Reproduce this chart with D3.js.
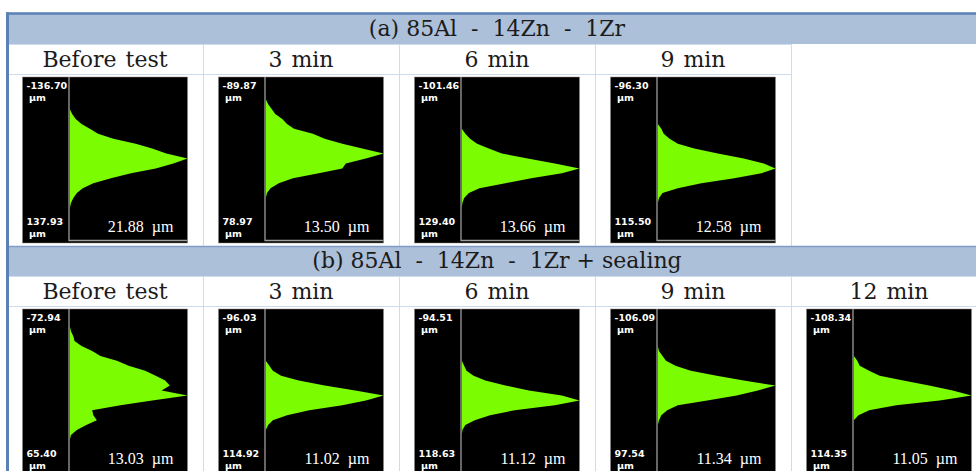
<!DOCTYPE html>
<html>
<head>
<meta charset="utf-8">
<script src="https://cdn.jsdelivr.net/npm/d3@7"></script>
<style>
  body { margin: 0; background: #fff; }
  svg { display: block; }
</style>
</head>
<body>
<div id="chart"></div>
<script>
const width = 976;
const height = 471;

// table text
const columns = ["Before test", "3 min", "6 min", "9 min", "12 min"];
const groupTitles = ["(a) 85Al  -  14Zn  -  1Zr", "(b) 85Al  -  14Zn  -  1Zr + sealing"];

// depth range (µm) shown at top / bottom of each histogram
const depthTopA = [-136.70, -89.87, -101.46, -96.30];
const depthBottomA = [137.93, 78.97, 129.40, 115.50];
const roughnessA = [21.88, 13.50, 13.66, 12.58];

const depthTopB = [-72.94, -96.03, -94.51, -106.09, -108.34];
const depthBottomB = [65.40, 114.92, 118.63, 97.54, 114.35];
const roughnessB = [13.03, 11.02, 11.12, 11.34, 11.05];

// height distribution: 33 equal depth bins from top to bottom, % of peak
const histA = [
  [0,0,0,0,0,0,0,2,5,10,17,24,37,56,70,82,100,88,73,52,35,20,11,6,3,1,0,0,0,0,0,0,0],
  [0,0,0,0,0,2,5,8,14,18,24,40,50,65,82,100,85,68,65,45,23,11,4,1,0,0,0,0,0,0,0,0,0],
  [0,0,0,0,0,0,0,0,0,0,0,3,7,13,23,34,56,79,100,85,59,37,15,6,2,0.5,0,0,0,0,0,0,0],
  [0,0,0,0,0,0,0,0,0,0,3,5,10,17,31,51,73,90,100,88,65,37,17,4,1,0,0,0,0,0,0,0,0]
];
const histB = [
  [0,0,0,0,1,3,4,10,19,26,40,50,64,73,81,85,78,100,70,43,19,20,23,14,6,1,0,0,0,0,0,0,0],
  [0,0,0,0,0,0,0,0,0,0,0,3,6,13,28,50,76,100,85,65,37,18,6,2,0,0,0,0,0,0,0,0,0],
  [0,0,0,0,0,0,0,0,0,0,0,2,4,10,20,37,57,85,100,79,45,24,11,3,0.5,0,0,0,0,0,0,0,0],
  [0,0,0,0,0,0,0,0,1,4,7,15,28,50,73,100,85,67,42,17,8,3,1,0,0,0,0,0,0,0,0,0,0],
  [0,0,0,0,0,0,0,0,0,0,3,5,13,22,42,64,84,100,73,36,13,4,0,0,0,0,0,0,0,0,0,0,0]
];

const tableLeft = 7;
const colWidth = 196;
const headerH = 30;
const colHeadH = 30;
const panelRowH = 172;
const panelW = 165;
const panelH = 166;
const axisOffset = 46.5;

const serif = "'DejaVu Serif', 'Liberation Serif', serif";
const valueSerif = "'Liberation Serif', 'DejaVu Serif', serif";
const sans = "'DejaVu Sans', 'Open Sans', sans-serif";

const svg = d3.select("#chart")
  .append("svg")
  .attr("width", width)
  .attr("height", height);

svg.append("rect")
  .attr("width", width)
  .attr("height", height)
  .attr("fill", "#fff");

const x = d3.scaleBand()
  .domain(columns)
  .range([tableLeft, tableLeft + colWidth * columns.length]);

const groups = [
  { title: groupTitles[0], top: depthTopA, bottom: depthBottomA, rough: roughnessA, hist: histA },
  { title: groupTitles[1], top: depthTopB, bottom: depthBottomB, rough: roughnessB, hist: histB }
];

const fmt = (v) => v.toFixed(2);
const gridColor = "#cddbee";

groups.forEach((grp, gi) => {
  const y0 = 14 + gi * (headerH + colHeadH + panelRowH);
  const n = grp.hist.length;
  const used = columns.slice(0, n);
  const g = svg.append("g").attr("transform", "translate(0," + y0 + ")");

  // header band
  g.append("rect")
    .attr("x", tableLeft)
    .attr("y", 0)
    .attr("width", width - tableLeft)
    .attr("height", headerH)
    .attr("fill", "#adc0d9");

  if (gi > 0) {
    g.append("line")
      .attr("x1", tableLeft).attr("x2", width)
      .attr("y1", 0.5).attr("y2", 0.5)
      .attr("stroke", "#7f9dc7")
      .attr("stroke-width", 1.5);
  }

  g.append("text")
    .attr("x", (x.range()[0] + x.range()[1]) / 2)
    .attr("y", 22)
    .attr("text-anchor", "middle")
    .style("font-family", serif)
    .style("font-size", "22px")
    .style("white-space", "pre")
    .attr("fill", "#1b1b1b")
    .text(grp.title);

  // grid lines
  const lastX = x(used[n - 1]) + colWidth;
  const rowLines = [headerH, headerH + colHeadH];
  rowLines.forEach((ly) => {
    g.append("line")
      .attr("x1", tableLeft).attr("x2", gi === 0 ? lastX : width)
      .attr("y1", ly + 0.5).attr("y2", ly + 0.5)
      .attr("stroke", gridColor);
  });
  used.forEach((c, i) => {
    if (i === 0) return;
    g.append("line")
      .attr("x1", x(c) + 0.5).attr("x2", x(c) + 0.5)
      .attr("y1", headerH).attr("y2", headerH + colHeadH + panelRowH)
      .attr("stroke", gridColor);
  });
  g.append("line")
    .attr("x1", lastX + 0.5).attr("x2", lastX + 0.5)
    .attr("y1", headerH).attr("y2", headerH + colHeadH + panelRowH)
    .attr("stroke", gridColor);

  // column headers
  g.selectAll("text.col")
    .data(used)
    .join("text")
    .attr("class", "col")
    .attr("x", (d) => x(d) + colWidth / 2)
    .attr("y", headerH + 23)
    .attr("text-anchor", "middle")
    .style("font-family", serif)
    .style("font-size", "22px")
    .style("word-spacing", "2px")
    .attr("fill", "#1b1b1b")
    .text((d) => d);

  // histogram panels
  used.forEach((c, i) => {
    const px = x(c) + (colWidth - panelW) / 2;
    const py = headerH + colHeadH + 3;
    const p = g.append("g").attr("transform", "translate(" + px + "," + py + ")");

    p.append("rect")
      .attr("width", panelW)
      .attr("height", panelH)
      .attr("fill", "#000")
      .attr("stroke", "#8a8a8a")
      .attr("stroke-width", 0.5);

    const counts = grp.hist[i];
    const top = grp.top[i];
    const bot = grp.bottom[i];
    const step = (bot - top) / counts.length;

    const yScale = d3.scaleLinear().domain([top, bot]).range([0, panelH - 3]);
    const xScale = d3.scaleLinear().domain([0, d3.max(counts)]).range([axisOffset + 0.8, panelW]);

    const bins = counts.map((v, k) => ({ depth: top + (k + 0.5) * step, v: v }));

    const area = d3.area()
      .y((d) => yScale(d.depth))
      .x0(xScale(0))
      .x1((d) => xScale(d.v))
      .defined((d, k) => d.v > 0 || (counts[k - 1] > 0) || (counts[k + 1] > 0));

    p.append("path")
      .datum(bins)
      .attr("fill", "#7cfc00")
      .attr("d", area);

    // frame lines
    p.append("path")
      .attr("d", "M" + axisOffset + ",0V" + (panelH - 2.5) + "H" + panelW)
      .attr("fill", "none")
      .attr("stroke", "#9c9c9c")
      .attr("stroke-width", 1.3);

    const lab = p.append("g")
      .style("font-family", sans)
      .style("font-weight", "700")
      .style("font-size", "9.5px")
      .attr("fill", "#fff");

    lab.append("text").attr("x", 4).attr("y", 12).text(fmt(top));
    lab.append("text").attr("x", 6.5).attr("y", 24).text("µm");
    lab.append("text").attr("x", 4).attr("y", 148).text(fmt(bot));
    lab.append("text").attr("x", 6.5).attr("y", 160).text("µm");

    p.append("text")
      .attr("x", 151)
      .attr("y", 155)
      .attr("text-anchor", "end")
      .style("font-family", valueSerif)
      .style("font-size", "16px")
      .style("white-space", "pre")
      .attr("fill", "#fff")
      .text(fmt(grp.rough[i]) + "  µm");
  });
});

// outer blue border (top and left)
svg.append("line")
  .attr("x1", tableLeft - 1).attr("x2", width)
  .attr("y1", 13.5).attr("y2", 13.5)
  .attr("stroke", "#5b80b6")
  .attr("stroke-width", 2.5);

svg.append("line")
  .attr("x1", tableLeft + 0.5).attr("x2", tableLeft + 0.5)
  .attr("y1", 12.3).attr("y2", height)
  .attr("stroke", "#5b80b6")
  .attr("stroke-width", 3);
</script>
</body>
</html>
